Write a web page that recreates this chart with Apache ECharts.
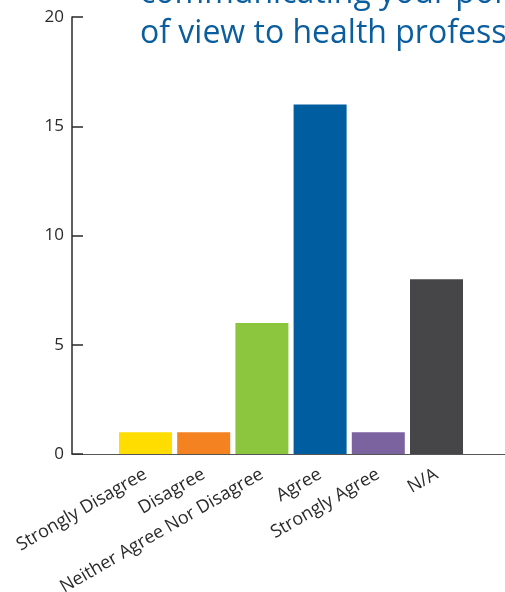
<!DOCTYPE html>
<html>
<head>
<meta charset="utf-8">
<script src="https://cdn.jsdelivr.net/npm/echarts@6/dist/echarts.min.js"></script>
<style>
html,body{margin:0;padding:0;background:#fff;}
#chart{width:505px;height:592px;}
</style>
</head>
<body>
<div id="chart"></div>
<script>
const categories = ['Strongly Disagree', 'Disagree', 'Neither Agree Nor Disagree', 'Agree', 'Strongly Agree', 'N/A'];
const values = [1, 1, 6, 16, 1, 8];
const yTicks = [0, 5, 10, 15, 20];
const palette = ['#FFDD00', '#F58220', '#8CC63F', '#005DA0', '#7B63A0', '#464648'];
const titleText = 'communicating your point\nof view to health professionals';

const chart = echarts.init(document.getElementById('chart'));
const font = '"Open Sans", "Noto Sans", sans-serif';
chart.setOption({
  animation: false,
  title: {
    text: titleText,
    left: 140,
    top: -26,
    padding: 0,
    textStyle: { color: '#0B5E9E', fontSize: 32, fontWeight: 'normal', fontFamily: font, lineHeight: 40 }
  },
  grid: [
    { left: 72, top: 17, right: 0, bottom: 138, outerBoundsMode: 'none', containLabel: false },
    { left: 116.4, top: 17, width: 349.2, bottom: 138, outerBoundsMode: 'none', containLabel: false }
  ],
  xAxis: [
    { gridIndex: 0, type: 'value', min: 0, max: 1, axisLine: { show: true, lineStyle: { color: '#555', width: 1 } },
      axisTick: { show: false }, axisLabel: { show: false }, splitLine: { show: false } },
    { gridIndex: 1, type: 'category', data: categories, axisLine: { show: false }, axisTick: { show: false },
      axisLabel: { rotate: 30, margin: 19, fontSize: 18, color: '#2a2a2a', fontFamily: font, interval: 0 } }
  ],
  yAxis: [
    { gridIndex: 0, type: 'value', min: yTicks[0], max: yTicks[yTicks.length - 1], interval: 5,
      axisLine: { show: true, lineStyle: { color: '#2a2a2a', width: 1.5 } },
      axisTick: { show: true, inside: true, length: 11, lineStyle: { color: '#2a2a2a', width: 1.5 } },
      axisLabel: { fontSize: 17, color: '#2a2a2a', margin: 8, fontFamily: font },
      splitLine: { show: false } },
    { gridIndex: 1, type: 'value', min: 0, max: 20, show: false, splitLine: { show: false } }
  ],
  series: [{
    type: 'bar',
    xAxisIndex: 1, yAxisIndex: 1,
    barWidth: 53,
    data: values.map((v, i) => ({ value: v, itemStyle: { color: palette[i] } }))
  }]
});
</script>
</body>
</html>
